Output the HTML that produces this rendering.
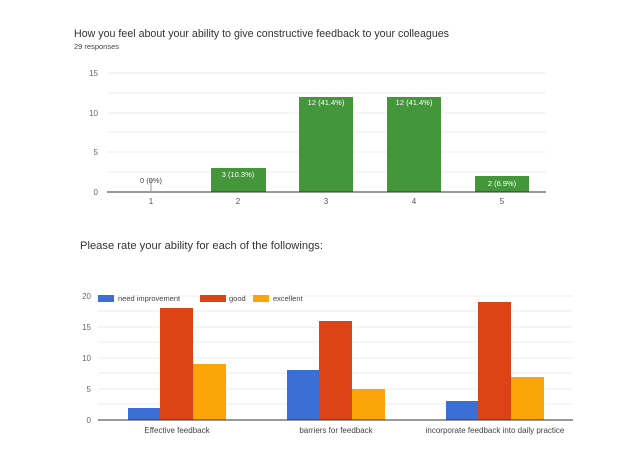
<!DOCTYPE html>
<html><head><style>body{margin:0;background:#fff;}svg{display:block;font-family:"Liberation Sans",Arial,sans-serif;}</style></head>
<body>
<svg width="632" height="467" viewBox="0 0 632 467">
<text x="74" y="37" font-size="10.8" fill="#333" textLength="375" lengthAdjust="spacingAndGlyphs">How you feel about your ability to give constructive feedback to your colleagues</text>
<text x="74" y="49" font-size="7.5" fill="#444">29 responses</text>
<g stroke="#eee" stroke-width="1">
<line x1="107" y1="73" x2="546" y2="73"/><line x1="107" y1="93" x2="546" y2="93"/><line x1="107" y1="113" x2="546" y2="113"/><line x1="107" y1="132" x2="546" y2="132"/><line x1="107" y1="152" x2="546" y2="152"/><line x1="107" y1="172" x2="546" y2="172"/>
</g>
<g font-size="8" fill="#666" text-anchor="end">
<text x="98" y="76">15</text><text x="98" y="116">10</text><text x="98" y="155">5</text><text x="98" y="195">0</text>
</g>
<g fill="#43963a">
<rect x="211" y="168" width="55" height="24"/><rect x="299" y="97" width="54" height="95"/><rect x="387" y="97" width="54" height="95"/><rect x="475" y="176" width="54" height="16"/>
</g>
<line x1="107" y1="192" x2="546" y2="192" stroke="#333" stroke-width="1"/>
<line x1="151" y1="179" x2="151" y2="192" stroke="#999"/>
<g font-size="7.5" text-anchor="middle">
<text x="151" y="183" fill="#444">0 (0%)</text>
<text x="238" y="177" fill="#fff">3 (10.3%)</text>
<text x="326" y="105" fill="#fff">12 (41.4%)</text>
<text x="414" y="105" fill="#fff">12 (41.4%)</text>
<text x="502" y="186" fill="#fff">2 (6.9%)</text>
</g>
<g font-size="8" fill="#555" text-anchor="middle">
<text x="151" y="204">1</text><text x="238" y="204">2</text><text x="326" y="204">3</text><text x="414" y="204">4</text><text x="502" y="204">5</text>
</g>

<text x="80" y="249" font-size="11" fill="#333" textLength="243" lengthAdjust="spacingAndGlyphs">Please rate your ability for each of the followings:</text>
<g stroke="#eee" stroke-width="1">
<line x1="98" y1="296" x2="573" y2="296"/><line x1="98" y1="311" x2="573" y2="311"/><line x1="98" y1="327" x2="573" y2="327"/><line x1="98" y1="342" x2="573" y2="342"/><line x1="98" y1="358" x2="573" y2="358"/><line x1="98" y1="373" x2="573" y2="373"/><line x1="98" y1="389" x2="573" y2="389"/><line x1="98" y1="404" x2="573" y2="404"/>
</g>
<g font-size="8" fill="#666" text-anchor="end">
<text x="91" y="299">20</text><text x="91" y="330">15</text><text x="91" y="361">10</text><text x="91" y="392">5</text><text x="91" y="423">0</text>
</g>
<rect x="98" y="295" width="16" height="7" fill="#3b6fd6"/><text x="118" y="301" font-size="7.5" fill="#444">need improvement</text>
<rect x="200" y="295" width="26" height="7" fill="#dc4418"/><text x="229" y="301" font-size="7.5" fill="#444">good</text>
<rect x="253" y="295" width="16" height="7" fill="#fca50a"/><text x="273" y="301" font-size="7.5" fill="#444">excellent</text>
<g fill="#3b6fd6"><rect x="128" y="408" width="32" height="12"/><rect x="287" y="370" width="32" height="50"/><rect x="446" y="401" width="32" height="19"/></g>
<g fill="#dc4418"><rect x="160" y="308" width="33" height="112"/><rect x="319" y="321" width="33" height="99"/><rect x="478" y="302" width="33" height="118"/></g>
<g fill="#fca50a"><rect x="193" y="364" width="33" height="56"/><rect x="352" y="389" width="33" height="31"/><rect x="511" y="377" width="33" height="43"/></g>
<line x1="98" y1="420" x2="573" y2="420" stroke="#333"/>
<g font-size="8" fill="#444" text-anchor="middle">
<text x="177" y="433">Effective feedback</text><text x="336" y="433">barriers for feedback</text><text x="495" y="433">incorporate feedback into daily practice</text>
</g>
</svg>
</body></html>
